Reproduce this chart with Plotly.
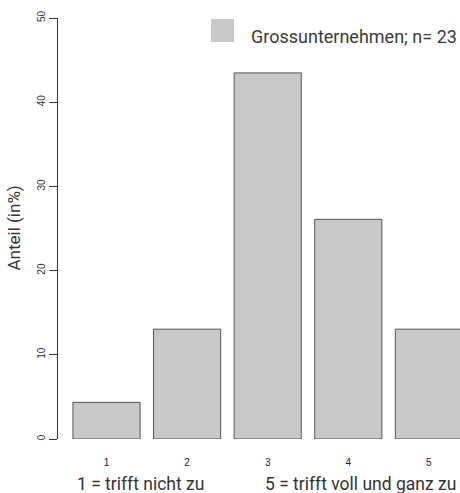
import plotly.graph_objects as go

categories = [1, 2, 3, 4, 5]
tick_labels = ["1", "2", "3", "4", "5"]
values = [4.35, 13.04, 43.48, 26.09, 13.04]
series_name = "Grossunternehmen; n= 23"
y_ticks = [0, 10, 20, 30, 40, 50]

W, H = 460, 493
L, R, T, B = 58, 0, 18, 54
pw, ph = W - L - R, H - T - B

def px_x(p):
    return (p - L) / pw

def px_y(p):
    return (H - B - p) / ph

fig = go.Figure()
fig.add_trace(go.Bar(
    x=categories, y=values, width=0.833,
    marker=dict(color="#c8c8c8", line=dict(color="#555555", width=1)),
    name=series_name, showlegend=False,
))

fig.update_layout(
    width=W, height=H,
    margin=dict(l=L, r=R, t=T, b=B, autoexpand=False),
    plot_bgcolor="white", paper_bgcolor="white",
    font=dict(family="Roboto", color="#333333"),
    xaxis=dict(
        range=[0.398, 5.386], tickmode="array", tickvals=categories, ticktext=tick_labels,
        showline=False, showgrid=False, zeroline=False, ticks="",
        tickfont=dict(family="Liberation Sans", size=10, color="#222222"),
        ticklabelstandoff=16, automargin=False,
    ),
    yaxis=dict(
        range=[0, 50], tickvals=y_ticks, showgrid=False, zeroline=False,
        showline=True, linecolor="#333333", linewidth=1,
        ticks="outside", ticklen=8, tickcolor="#333333",
        tickangle=-90, automargin=False,
        tickfont=dict(family="Liberation Sans", size=10, color="#333333"),
    ),
    shapes=[dict(
        type="rect", xref="paper", yref="paper",
        x0=px_x(211), x1=px_x(234), y0=px_y(42), y1=px_y(19),
        fillcolor="#c8c8c8", line=dict(width=0),
    )],
    annotations=[
        dict(text=series_name, xref="paper", yref="paper", x=px_x(249), y=px_y(36),
             xanchor="left", yanchor="middle", showarrow=False,
             font=dict(family="Roboto", size=18, color="#3a3a3a")),
        dict(text="Anteil (in%)", xref="paper", yref="paper", x=0, y=0.5,
             xshift=-45, xanchor="center", yanchor="middle", textangle=-90,
             showarrow=False, font=dict(family="Roboto", size=17, color="#333333")),
        dict(text="1 = trifft nicht zu", xref="paper", yref="paper", x=px_x(75), y=0,
             yshift=-45, xanchor="left", yanchor="middle", showarrow=False,
             font=dict(family="Roboto", size=17.5, color="#333333")),
        dict(text="5 = trifft voll und ganz zu", xref="paper", yref="paper", x=px_x(458), y=0,
             yshift=-45, xanchor="right", yanchor="middle", showarrow=False,
             font=dict(family="Roboto", size=17.5, color="#333333")),
    ],
)

fig.write_html("out.html", config={"displayModeBar": False},
               post_script="document.body.style.margin='0';document.body.style.padding='0';")
